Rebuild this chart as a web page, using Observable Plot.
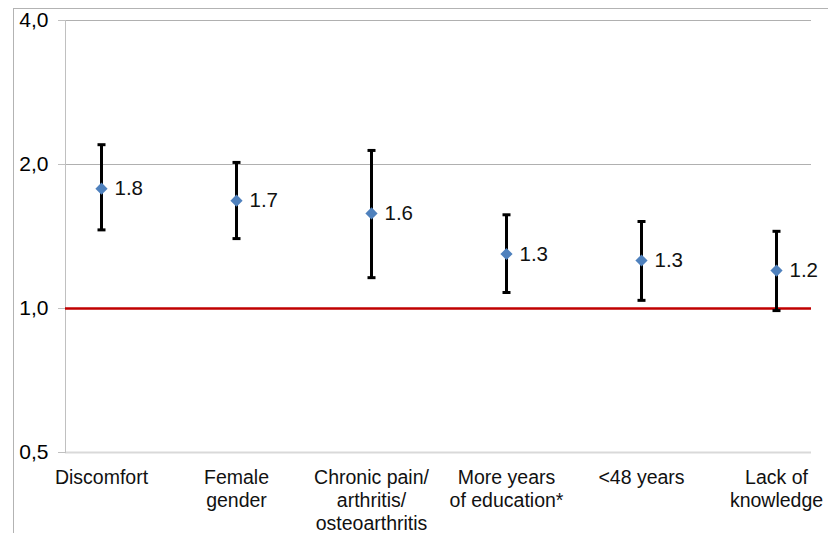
<!DOCTYPE html>
<html>
<head>
<meta charset="utf-8">
<script src="https://cdn.jsdelivr.net/npm/d3@7"></script>
<script src="https://cdn.jsdelivr.net/npm/@observablehq/plot@0.6"></script>
<style>
  html, body { margin: 0; padding: 0; background: #fff; }
  #wrap { position: relative; width: 828px; height: 533px; overflow: hidden; }
  #border { position: absolute; left: 13px; top: 8px; right: -2px; bottom: -2px;
            border-left: 1px solid #b3b3b3; border-top: 1px solid #b3b3b3; }
  #chart { position: absolute; left: 0; top: 0; }
</style>
</head>
<body>
<div id="wrap"><div id="border"></div><div id="chart"></div></div>
<script>
// Categories (x axis labels)
const categories = [
  "Discomfort",
  "Female\ngender",
  "Chronic pain/\narthritis/\nosteoarthritis",
  "More years\nof education*",
  "<48 years",
  "Lack of\nknowledge"
];
// Odds ratios (point estimates) and confidence interval bounds
const oddsRatio = [1.78, 1.68, 1.58, 1.30, 1.26, 1.20];
const ciLower   = [1.46, 1.40, 1.16, 1.08, 1.04, 0.99];
const ciUpper   = [2.20, 2.02, 2.14, 1.57, 1.52, 1.45];
// Y tick values
const yTicks = [0.5, 1, 2, 4];
const referenceLine = [1];

const data = categories.map((c, i) => ({
  cat: c, or: oddsRatio[i], lo: ciLower[i], hi: ciUpper[i]
}));

const capSymbol = {
  draw(context, size) {
    const w = 4;
    context.moveTo(-w, 0);
    context.lineTo(w, 0);
  }
};

const chart = Plot.plot({
  width: 828,
  height: 533,
  marginLeft: 65,
  marginRight: 17,
  marginTop: 20,
  marginBottom: 81,
  style: { fontFamily: "'Liberation Sans', Arial, sans-serif", color: "#000", background: "transparent" },
  x: { type: "point", domain: categories, range: [99, 777], padding: 0, label: null },
  y: { type: "log", domain: [0.5, 4], label: null },
  marks: [
    Plot.ruleY(yTicks.filter(d => d > 1), { stroke: "#b0b0b0", strokeWidth: 1 }),
    Plot.ruleY([0.5], { stroke: "#d9d9d9", strokeWidth: 2 }),
    Plot.frame({ anchor: "left", stroke: "#c0c0c0" }),
    Plot.axisY(yTicks, {
      tickSize: 7, tickPadding: 10, stroke: "#c0c0c0", color: "#000", label: null,
      fontSize: 21, tickFormat: d => d.toFixed(1).replace(".", ",")
    }),
    Plot.axisX({
      tickSize: 0, tickPadding: 15, fontSize: 19.5, lineHeight: 1.18, color: "#111", label: null
    }),
    Plot.ruleY(referenceLine, { stroke: "#c00000", strokeWidth: 2.5 }),
    Plot.ruleX(data, { x: "cat", y1: "lo", y2: "hi", stroke: "#000", strokeWidth: 3 }),
    Plot.dot(data, { x: "cat", y: "lo", symbol: capSymbol, stroke: "#000", strokeWidth: 3, r: 4 }),
    Plot.dot(data, { x: "cat", y: "hi", symbol: capSymbol, stroke: "#000", strokeWidth: 3, r: 4 }),
    Plot.dot(data, { x: "cat", y: "or", symbol: "diamond2", r: 5.5, fill: "#4f81bd", stroke: "none" }),
    Plot.text(data, {
      x: "cat", y: "or", text: d => d3.format(".1f")(d.or),
      dx: 13, textAnchor: "start", fontSize: 20.5, fill: "#111"
    })
  ]
});
document.getElementById("chart").appendChild(chart);
</script>
</body>
</html>
